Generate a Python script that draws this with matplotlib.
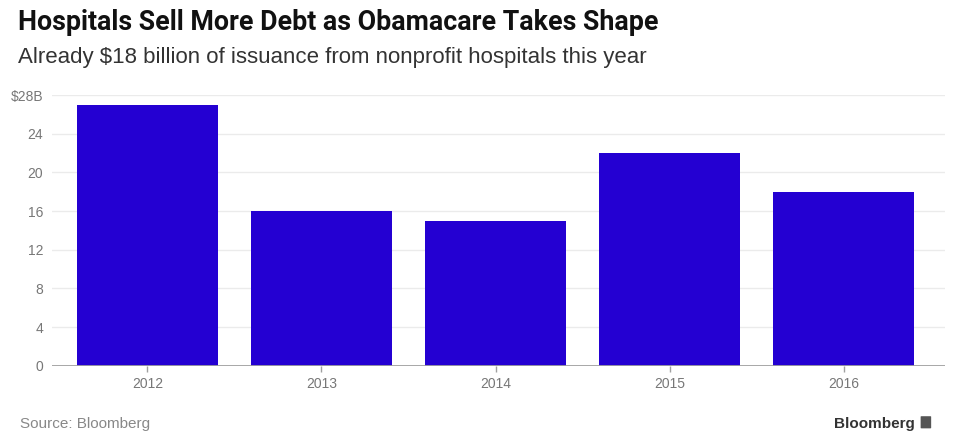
import matplotlib
matplotlib.use("Agg")
from matplotlib import pyplot as plt
from matplotlib.patches import FancyBboxPatch

years = ["2012", "2013", "2014", "2015", "2016"]
issuance = [27, 16, 15, 22, 18]
y_ticks = [0, 4, 8, 12, 16, 20, 24, 28]
y_labels = ["0", "4", "8", "12", "16", "20", "24", "$28B"]

plt.rcParams["font.family"] = ["Liberation Sans", "DejaVu Sans"]

fig = plt.figure(figsize=(9.57, 4.34), dpi=100)
ax = fig.add_axes([0.054, 0.157, 0.933, 0.624])

x = range(len(years))
ax.bar(x, issuance, width=0.81, color="#2400d2", zorder=3)

ax.set_xlim(-0.55, 4.58)
ax.set_ylim(0, 28)
ax.set_yticks(y_ticks)
ax.set_yticklabels(y_labels)
ax.set_xticks(list(x))
ax.set_xticklabels(years)

ax.grid(axis="y", color="#ebebeb", linewidth=1, zorder=0)
for s in ax.spines.values():
    s.set_visible(False)
ax.axhline(0, color="#a0a0a0", linewidth=2, zorder=4)

ax.tick_params(axis="y", length=0, pad=6, labelsize=10, labelcolor="#777777")
ax.tick_params(axis="x", length=4, width=1, color="#a0a0a0", pad=4,
               labelsize=10, labelcolor="#777777")

fig.text(0.019, 0.949, "Hospitals Sell More Debt as Obamacare Takes Shape",
         fontsize=19.3, fontweight="bold", color="#111111", va="center",
         family=["Roboto", "DejaVu Sans"])
fig.text(0.019, 0.868, "Already $18 billion of issuance from nonprofit hospitals this year",
         fontsize=16, color="#333333", va="center")
fig.text(0.021, 0.008, "Source: Bloomberg", fontsize=11, color="#888888", va="bottom")
fig.text(0.956, 0.008, "Bloomberg", fontsize=11, fontweight="bold",
         color="#333333", ha="right", va="bottom")
fig.patches.append(FancyBboxPatch((0.963, 0.014), 0.009, 0.026,
                                  boxstyle="round,pad=0.001", transform=fig.transFigure,
                                  facecolor="#555555", edgecolor="none"))

fig.savefig("out.png", dpi=100)
